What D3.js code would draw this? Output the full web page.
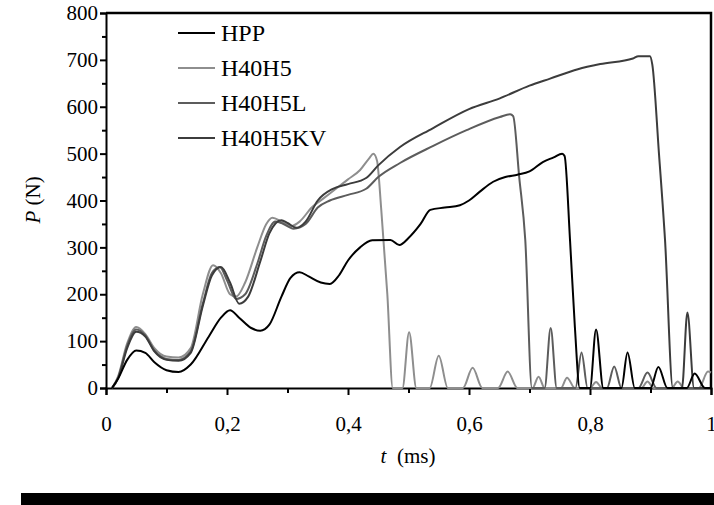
<!DOCTYPE html>
<html>
<head>
<script src="https://cdn.jsdelivr.net/npm/d3@7"></script>
</head>
<body style="margin:0">
<script>
// Series: [t (ms), P (N)]
const seriesNames = ["HPP", "H40H5", "H40H5L", "H40H5KV"];
const seriesColors = ["#000000", "#8e8e8e", "#5c5c5c", "#3c3c3c"];

const hpp = [[0.01,0],[0.02,20],[0.035,60],[0.05,80],[0.065,75],[0.08,55],[0.1,38],[0.12,34],[0.14,50],[0.17,110],[0.19,150],[0.205,166],[0.22,150],[0.24,128],[0.255,122],[0.27,135],[0.29,195],[0.305,235],[0.32,247],[0.335,238],[0.355,225],[0.37,222],[0.385,240],[0.4,272],[0.42,300],[0.44,315],[0.47,316],[0.485,305],[0.5,320],[0.52,350],[0.536,380],[0.56,385],[0.585,390],[0.6,400],[0.618,419],[0.64,440],[0.66,450],[0.68,455],[0.7,462],[0.722,482],[0.74,492],[0.754,500],[0.758,495],[0.767,315],[0.775,130],[0.783,0],[0.8,0],[0.81,125],[0.822,0],[0.852,0],[0.862,76],[0.874,0],[0.9,0],[0.913,45],[0.928,0],[0.96,0],[0.973,31],[0.99,0],[1.0,0]];

const h40h5 = [[0.01,0],[0.02,25],[0.035,95],[0.05,130],[0.065,115],[0.08,85],[0.1,67],[0.12,65],[0.14,85],[0.16,200],[0.177,262],[0.19,245],[0.205,200],[0.215,195],[0.23,225],[0.25,300],[0.265,350],[0.275,363],[0.29,355],[0.305,345],[0.32,355],[0.34,385],[0.36,405],[0.38,425],[0.4,445],[0.42,465],[0.435,490],[0.442,500],[0.448,485],[0.455,380],[0.465,200],[0.474,0],[0.49,0],[0.501,119],[0.513,0],[0.535,0],[0.55,69],[0.565,0],[0.59,0],[0.606,43],[0.622,0],[0.648,0],[0.664,35],[0.68,0],[0.705,0],[0.715,24],[0.725,0],[0.752,0],[0.762,22],[0.775,0],[0.8,0],[0.81,13],[0.82,0],[0.885,0],[0.895,14],[0.905,0],[0.935,0],[0.945,14],[0.955,0],[0.98,0],[0.995,35],[1.0,33]];

const h40h5l = [[0.01,0],[0.02,22],[0.035,90],[0.05,125],[0.065,112],[0.08,80],[0.1,62],[0.12,60],[0.14,78],[0.16,180],[0.175,245],[0.188,258],[0.2,230],[0.215,190],[0.23,200],[0.25,265],[0.265,325],[0.28,355],[0.29,352],[0.31,340],[0.33,350],[0.35,385],[0.37,400],[0.4,412],[0.43,425],[0.45,450],[0.486,480],[0.54,516],[0.596,550],[0.651,578],[0.668,584],[0.673,580],[0.683,450],[0.693,316],[0.704,0],[0.725,0],[0.735,128],[0.745,0],[0.776,0],[0.786,76],[0.796,0],[0.828,0],[0.84,46],[0.852,0],[0.88,0],[0.895,33],[0.91,0],[1.0,0]];

const h40h5kv = [[0.01,0],[0.02,20],[0.035,85],[0.05,120],[0.065,110],[0.08,78],[0.1,60],[0.12,58],[0.14,75],[0.16,175],[0.175,240],[0.19,258],[0.205,225],[0.22,180],[0.235,195],[0.255,270],[0.27,330],[0.29,358],[0.3,352],[0.315,342],[0.33,355],[0.35,400],[0.375,425],[0.4,435],[0.43,448],[0.45,475],[0.486,514],[0.54,554],[0.6,595],[0.651,618],[0.7,645],[0.734,660],[0.78,680],[0.817,691],[0.871,703],[0.88,708],[0.899,708],[0.903,690],[0.914,500],[0.924,316],[0.937,0],[0.952,0],[0.961,161],[0.972,0],[1.0,0]];

const xTicks = [0, 0.2, 0.4, 0.6, 0.8, 1];
const xTickLabels = ["0", "0,2", "0,4", "0,6", "0,8", "1"];
const yTicks = [0, 100, 200, 300, 400, 500, 600, 700, 800];

const margin = {top: 13, right: 3, bottom: 117, left: 106};
const width = 714 - margin.left - margin.right;
const height = 505 - margin.top - margin.bottom;

const svg = d3.select("body").append("svg")
    .attr("width", 714)
    .attr("height", 505);

const g = svg.append("g")
    .attr("transform", `translate(${margin.left},${margin.top})`);

const x = d3.scaleLinear().domain([0, 1]).range([0, width]);
const y = d3.scaleLinear().domain([0, 800]).range([height, 0]);

// minor ticks first, then major
g.append("g")
    .attr("transform", `translate(0,${height})`)
    .call(d3.axisBottom(x).tickValues(d3.range(0.1, 1, 0.2)).tickSize(5).tickFormat(""))
    .call(a => a.select(".domain").remove());
g.append("g")
    .attr("transform", `translate(0,${height})`)
    .call(d3.axisBottom(x).tickValues(xTicks).tickSize(7).tickPadding(21)
        .tickFormat((d, i) => xTickLabels[i]));

g.append("g")
    .call(d3.axisLeft(y).tickValues(d3.range(50, 800, 100)).tickSize(4).tickFormat(""))
    .call(a => a.select(".domain").remove());
g.append("g")
    .call(d3.axisLeft(y).tickValues(yTicks).tickSize(6).tickPadding(2));

g.selectAll(".tick line").attr("stroke-width", 2);
g.selectAll(".domain").attr("stroke-width", 2);

// frame top and right
g.append("path")
    .attr("d", `M0,0H${width}V${height}`)
    .attr("fill", "none")
    .attr("stroke", "black")
    .attr("stroke-width", 2.5);

const line = d3.line()
    .x(d => x(d[0]))
    .y(d => y(d[1]))
    .curve(d3.curveMonotoneX);

const allSeries = [hpp, h40h5, h40h5l, h40h5kv];
// draw lighter first so black sits on top
[1, 2, 3, 0].forEach(i => {
    g.append("path")
        .datum(allSeries[i])
        .attr("d", line)
        .attr("fill", "none")
        .attr("stroke", seriesColors[i])
        .attr("stroke-width", 2)
        .attr("stroke-linejoin", "round");
});

// legend
seriesNames.forEach((name, i) => {
    const ly = 33 + i * 35;
    svg.append("line")
        .attr("x1", 178).attr("x2", 215)
        .attr("y1", ly).attr("y2", ly)
        .attr("stroke", seriesColors[i])
        .attr("stroke-width", 2);
    svg.append("text")
        .attr("class", "legend")
        .attr("x", 221)
        .attr("y", ly)
        .attr("dy", "0.33em")
        .text(name);
});

// axis titles
const xt = svg.append("text")
    .attr("x", 408)
    .attr("y", 463)
    .attr("text-anchor", "middle");
xt.append("tspan").attr("font-style", "italic").text("t");
xt.append("tspan").attr("xml:space", "preserve").text("\u00a0\u00a0(ms)");

const yt = svg.append("text")
    .attr("transform", "translate(33,200) rotate(-90)")
    .attr("text-anchor", "middle")
    .attr("dy", "0.33em");
yt.append("tspan").attr("font-style", "italic").text("P");
yt.append("tspan").text(" (N)");

// black strip along the bottom
svg.append("rect")
    .attr("x", 21)
    .attr("y", 493)
    .attr("width", 693)
    .attr("height", 12)
    .attr("fill", "black");

// fonts on every text, set last
svg.selectAll("g").attr("font-family", null);
svg.selectAll("text")
    .attr("font-family", "Liberation Serif")
    .attr("font-size", 21)
    .attr("fill", "black");
svg.selectAll("text.legend").attr("font-size", 24);
</script>
</body>
</html>
